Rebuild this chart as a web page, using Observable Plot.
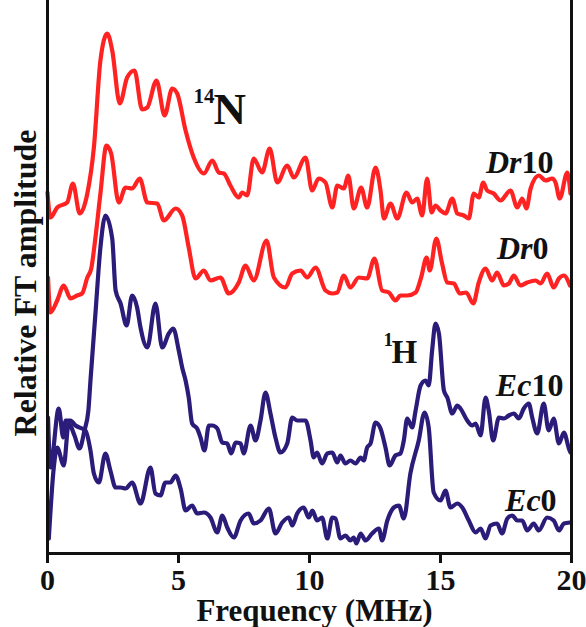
<!DOCTYPE html>
<html><head><meta charset="utf-8">
<script src="https://cdn.jsdelivr.net/npm/d3@7"></script>
<script src="https://cdn.jsdelivr.net/npm/@observablehq/plot@0.6"></script>
<style>body{margin:0;background:#fff}</style>
</head><body><div id="chart"></div>
<script>
// Frequency (MHz) and relative FT amplitude (arbitrary units, traces stacked with offsets)
const dr10Freq = [0.00,0.11,0.37,0.75,0.97,1.23,1.52,1.77,2.02,2.28,2.47,2.76,3.04,3.32,3.61,3.81,4.16,4.47,4.76,4.95,5.27,5.58,5.97,6.29,6.54,6.73,6.98,7.30,7.43,7.62,7.87,8.19,8.48,8.77,9.15,9.40,9.85,10.10,10.35,10.61,10.87,11.06,11.31,11.48,11.69,11.97,12.20,12.52,12.71,12.84,13.09,13.35,13.70,13.92,14.11,14.30,14.49,14.66,14.81,15.00,15.19,15.45,15.64,15.89,16.08,16.27,16.46,16.63,16.78,17.03,17.29,17.67,17.93,18.12,18.28,18.44,18.75,19.01,19.26,19.39,19.55,19.84,19.96];
const dr10Amp = [361,336,346,351,370,340,360,406,493,520,503,450,476,483,444,446,473,438,465,460,423,396,380,393,381,380,368,356,361,358,395,381,405,371,388,376,396,363,375,371,346,368,365,378,345,366,346,386,363,335,350,335,361,351,355,338,375,341,348,343,340,355,340,338,335,360,356,371,363,360,353,363,346,355,345,365,378,373,375,371,355,381,360];

const dr0Freq = [0.02,0.11,0.37,0.62,0.88,1.13,1.32,1.52,1.67,1.83,2.02,2.25,2.43,2.72,2.98,3.23,3.52,3.81,4.19,4.44,4.89,5.14,5.39,5.65,5.97,6.22,6.60,6.92,7.30,7.56,7.87,8.36,8.64,9.08,9.34,9.66,9.91,10.23,10.61,10.87,11.06,11.31,11.56,11.88,12.20,12.48,12.77,13.03,13.28,13.47,13.73,14.05,14.26,14.47,14.59,14.84,15.06,15.26,15.51,15.74,15.98,16.25,16.46,16.72,16.97,17.16,17.42,17.61,17.80,18.05,18.31,18.63,18.82,19.07,19.32,19.52,19.71,19.94];
const dr0Amp = [276,241,253,268,255,258,260,276,285,316,360,408,400,351,366,365,375,351,350,333,345,338,306,275,283,273,276,260,271,288,273,313,276,266,280,283,276,286,263,260,261,278,266,276,275,295,263,261,253,258,258,261,276,296,283,315,290,271,270,260,261,250,271,285,273,281,268,270,278,268,271,273,270,280,266,275,278,268];

const ec10Freq = [0.05,0.24,0.37,0.62,0.81,1.03,1.22,1.41,1.56,1.64,1.83,2.02,2.21,2.47,2.60,2.79,3.02,3.23,3.42,3.55,3.81,4.12,4.38,4.63,4.80,5.01,5.14,5.27,5.39,5.52,5.71,5.84,5.99,6.16,6.29,6.48,6.67,6.86,7.01,7.18,7.37,7.49,7.75,7.94,8.13,8.32,8.51,8.70,8.89,9.15,9.34,9.53,9.85,10.04,10.16,10.29,10.48,10.68,10.87,11.06,11.18,11.37,11.56,11.76,11.95,12.07,12.20,12.33,12.52,12.71,12.90,13.06,13.28,13.47,13.60,13.73,13.92,14.05,14.24,14.43,14.55,14.68,14.81,14.94,15.13,15.26,15.45,15.64,15.76,16.02,16.21,16.34,16.53,16.72,16.84,17.01,17.23,17.42,17.61,17.80,17.99,18.18,18.37,18.50,18.69,18.94,19.13,19.32,19.52,19.71,19.90,19.96];
const ec10Amp = [15,86,106,88,130,118,105,123,143,173,240,306,338,315,263,250,228,258,246,226,206,250,206,220,225,203,186,173,156,130,125,116,103,128,128,125,111,110,100,111,110,100,128,113,133,161,140,116,101,110,136,133,133,113,96,101,90,100,101,91,98,90,93,90,96,93,106,110,131,125,106,88,98,100,113,135,126,143,168,173,168,203,230,220,163,156,140,148,145,133,128,130,118,156,143,113,136,135,138,140,135,145,150,136,120,150,123,135,110,121,105,101];

const ec0Freq = [0.02,0.11,0.43,0.60,0.69,0.88,1.07,1.32,1.45,1.64,1.77,1.96,2.21,2.40,2.60,2.79,2.98,3.23,3.55,3.93,4.12,4.31,4.50,4.69,4.89,5.08,5.27,5.52,5.71,5.97,6.22,6.48,6.67,6.86,7.11,7.37,7.68,7.87,8.13,8.45,8.70,8.96,9.21,9.34,9.53,9.78,9.97,10.11,10.29,10.48,10.68,10.87,10.99,11.18,11.37,11.56,11.69,11.79,11.95,12.14,12.39,12.65,12.77,12.97,13.22,13.41,13.60,13.85,14.17,14.39,14.55,14.74,15.00,15.19,15.38,15.64,15.83,16.08,16.34,16.53,16.72,16.91,17.16,17.35,17.55,17.74,17.93,18.12,18.31,18.56,18.75,19.07,19.32,19.52,19.71,19.94];
const ec0Amp = [136,86,145,116,133,133,128,125,123,103,80,71,100,83,66,66,65,71,50,86,60,58,71,71,78,65,43,48,40,41,36,21,38,26,16,33,40,30,33,45,20,31,36,28,40,46,36,43,33,36,15,36,35,15,18,13,16,10,20,13,20,25,13,33,46,48,35,80,113,141,126,61,53,63,46,50,46,33,21,25,15,28,30,20,35,38,33,33,23,30,23,36,33,23,30,31];

const xTicks = [0, 5, 10, 15, 20];
const xLabel = "Frequency (MHz)";
const yLabel = "Relative FT amplitude";

const RED = "#ff2222", NAVY = "#2b1c7a", INK = "#111";
const rows = (name, fr, am) => fr.map((f, i) => ({series: name, f, a: am[i]}));

const lineOpts = {x: "f", y: "a", strokeWidth: 4.2, curve: "monotone-x", strokeLinejoin: "round", strokeLinecap: "round"};
const txt = (s, x, y, o) => Plot.text([s], {x: () => x, y: () => y, text: d => d, lineAnchor: "bottom", fill: INK, ...o});

const chart = Plot.plot({
  width: 586, height: 627,
  marginLeft: 47, marginRight: 15, marginTop: 0, marginBottom: 74,
  x: {domain: [0, 20]},
  y: {domain: [0, 553], axis: null},
  style: {fontFamily: "'Liberation Serif', 'DejaVu Serif', serif", fontWeight: "bold", background: "#fff", color: INK, overflow: "visible"},
  marks: [
    Plot.line(rows("Dr10", dr10Freq, dr10Amp), {...lineOpts, stroke: RED}),
    Plot.line(rows("Dr0", dr0Freq, dr0Amp), {...lineOpts, stroke: RED}),
    Plot.line(rows("Ec10", ec10Freq, ec10Amp), {...lineOpts, stroke: NAVY}),
    Plot.line(rows("Ec0", ec0Freq, ec0Amp), {...lineOpts, stroke: NAVY}),
    Plot.ruleY([0], {stroke: INK, strokeWidth: 3}),
    Plot.ruleX([0, 20], {stroke: INK, strokeWidth: 3}),
    Plot.axisX({ticks: xTicks, tickSize: 10, tickPadding: 5, fontSize: 30, strokeWidth: 3, stroke: INK, fill: INK, tickFormat: d => String(d), label: null}),
    Plot.text([xLabel], {frameAnchor: "bottom", lineAnchor: "bottom", textAnchor: "middle", dx: 5, dy: 67, text: d => d, fontSize: 31, fill: INK}),
    Plot.text([yLabel], {frameAnchor: "left", rotate: -90, textAnchor: "middle", lineAnchor: "middle", dx: -22, dy: 6, text: d => d, fontSize: 32, fill: INK}),
    // isotope annotations
    txt("14", 5.57, 451, {textAnchor: "start", fontSize: 21}),
    txt("N", 6.34, 430, {textAnchor: "start", fontSize: 45}),
    txt("1", 12.82, 208, {textAnchor: "start", fontSize: 19}),
    txt("H", 13.13, 191, {textAnchor: "start", fontSize: 33}),
    // series labels
    txt("Dr", 18.09, 381, {textAnchor: "end", fontStyle: "italic", fontSize: 32}),
    txt("10", 18.09, 381, {textAnchor: "start", fontSize: 32}),
    txt("Dr", 18.51, 295, {textAnchor: "end", fontStyle: "italic", fontSize: 32}),
    txt("0", 18.51, 295, {textAnchor: "start", fontSize: 32}),
    txt("Ec", 18.47, 158, {textAnchor: "end", fontStyle: "italic", fontSize: 32}),
    txt("10", 18.47, 158, {textAnchor: "start", fontSize: 32}),
    txt("Ec", 18.82, 43, {textAnchor: "end", fontStyle: "italic", fontSize: 32}),
    txt("0", 18.82, 43, {textAnchor: "start", fontSize: 32})
  ]
});
document.getElementById("chart").append(chart);
</script>
</body></html>
